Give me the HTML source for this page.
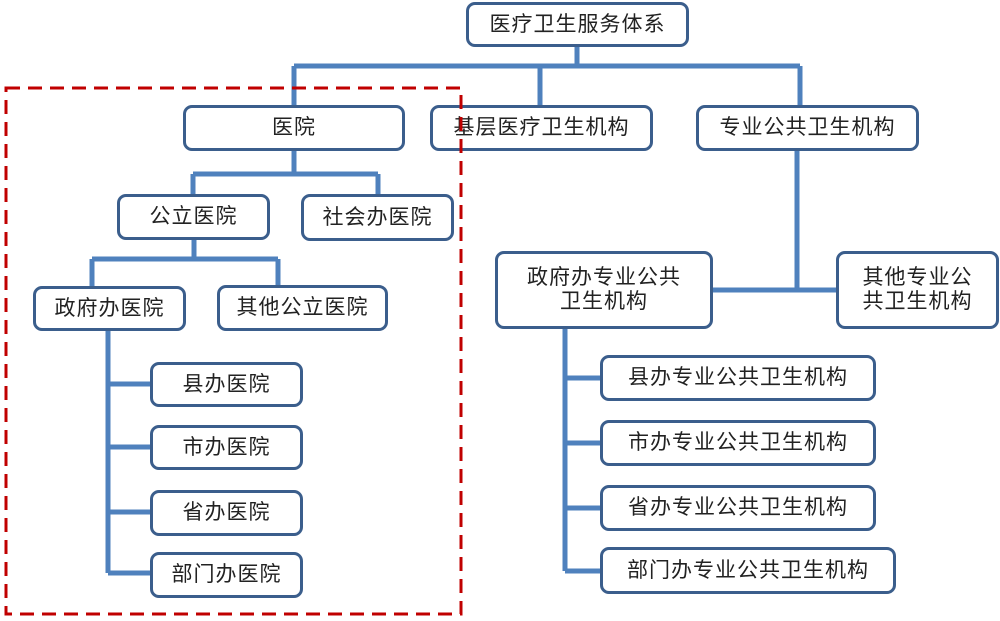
<!DOCTYPE html>
<html><head><meta charset="utf-8"><style>
body{margin:0;width:1000px;height:621px;background:#fff;position:relative;overflow:hidden;font-family:"Liberation Sans","Noto Sans CJK SC",sans-serif}
.b{position:absolute;box-sizing:border-box;border:3px solid #3b5e8c;border-radius:9px;background:#fff;display:flex;align-items:center;justify-content:center;text-align:center;font-size:21px;letter-spacing:1px;color:#222;line-height:24px}
svg{position:absolute;left:0;top:0}
</style></head><body>
<svg width="1000" height="621">
<g stroke="#4f81bd" stroke-width="5" fill="none">
<path d="M577 46V66M294 66H800M294 66V105M540 66V105M800 66V105"/>
<path d="M294 150V174M193 174H378M193 174V194M378 174V194"/>
<path d="M194 239V259M92 259H278M92 259V286M278 259V286"/>
<path d="M108 330V573M108 384H150M108 447H150M108 512H150M108 573H150"/>
<path d="M797 150V290M712 290H836"/>
<path d="M565 328V571M565 378H600M565 443H600M565 508H600M565 571H600"/>
</g>
</svg>
<div class="b" style="left:466px;top:2px;width:223px;height:45px">医疗卫生服务体系</div>
<div class="b" style="left:183px;top:105px;width:222px;height:46px">医院</div>
<div class="b" style="left:430px;top:105px;width:223px;height:46px">基层医疗卫生机构</div>
<div class="b" style="left:696px;top:105px;width:223px;height:46px">专业公共卫生机构</div>
<div class="b" style="left:117px;top:194px;width:153px;height:46px">公立医院</div>
<div class="b" style="left:301px;top:194px;width:153px;height:47px">社会办医院</div>
<div class="b" style="left:33px;top:286px;width:153px;height:45px">政府办医院</div>
<div class="b" style="left:217px;top:285px;width:171px;height:46px">其他公立医院</div>
<div class="b" style="left:150px;top:362px;width:153px;height:45px">县办医院</div>
<div class="b" style="left:150px;top:425px;width:153px;height:45px">市办医院</div>
<div class="b" style="left:150px;top:490px;width:153px;height:46px">省办医院</div>
<div class="b" style="left:150px;top:552px;width:153px;height:46px">部门办医院</div>
<div class="b" style="left:495px;top:251px;width:218px;height:78px">政府办专业公共<br>卫生机构</div>
<div class="b" style="left:836px;top:251px;width:163px;height:78px">其他专业公<br>共卫生机构</div>
<div class="b" style="left:600px;top:355px;width:276px;height:46px">县办专业公共卫生机构</div>
<div class="b" style="left:600px;top:420px;width:276px;height:46px">市办专业公共卫生机构</div>
<div class="b" style="left:600px;top:485px;width:276px;height:46px">省办专业公共卫生机构</div>
<div class="b" style="left:600px;top:547px;width:296px;height:47px">部门办专业公共卫生机构</div>
<svg width="1000" height="621" style="pointer-events:none">
<rect x="6" y="88" width="455" height="526" fill="none" stroke="#c00000" stroke-width="3" stroke-dasharray="14,8"/>
</svg>
</body></html>
